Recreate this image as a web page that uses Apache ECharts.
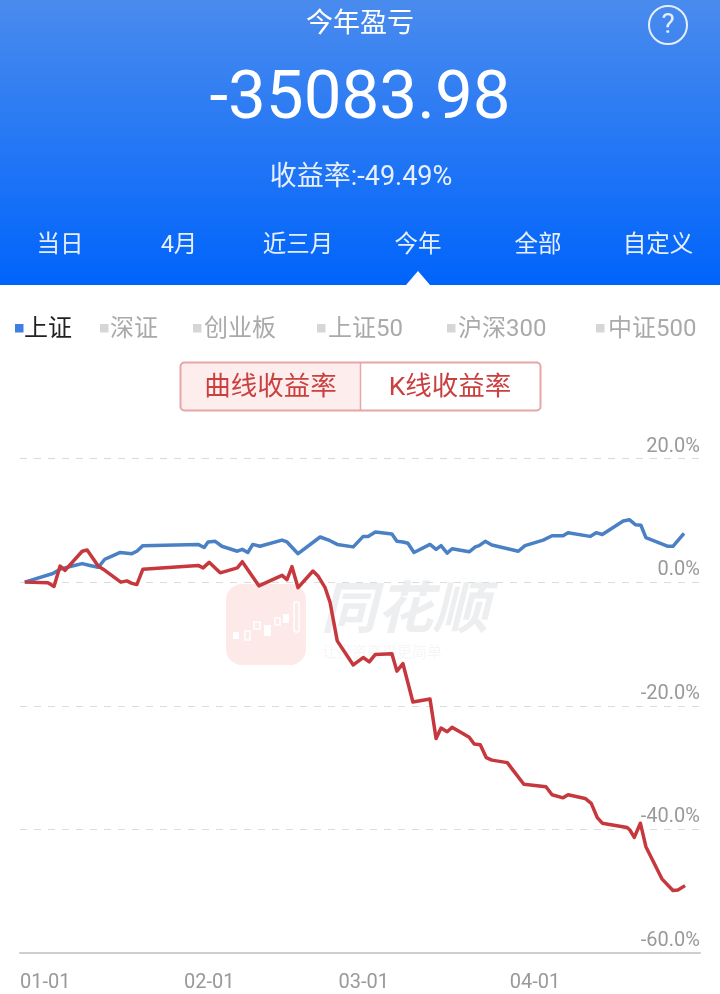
<!DOCTYPE html>
<html><head><meta charset="utf-8">
<style>html,body{margin:0;padding:0;background:#fff}#c{width:720px;height:994px}</style>
<script src="https://cdn.jsdelivr.net/npm/echarts@6/dist/echarts.min.js"></script>
</head><body><div id="c"></div>
<script>
const FONT = 'Roboto, "Noto Sans CJK SC", sans-serif';
const tickLabels = ['01-01', '02-01', '03-01', '04-01'];
const tickDays = [1.3, 31, 59, 90];
const yTicks = [-60, -40, -20, 0, 20];
const tabs = ['当日', '4月', '近三月', '今年', '全部', '自定义'];
const legendNames = ['上证', '深证', '创业板', '上证50', '沪深300', '中证500'];
const indexName = '上证';
const accountName = '收益率';

const indexDays = [-2.4,2.7,4.0,6.2,8.0,9.4,10.9,12.1,13.4,14.9,17.0,17.9,19.0,29.0,30.1,30.8,32.1,33.3,36.1,37.0,38.0,38.9,40.2,44.2,45.1,47.1,51.1,52.9,54.2,57.1,58.9,59.8,61.1,64.1,65.0,66.1,67.0,68.1,71.0,72.1,73.0,74.1,75.0,78.1,79.2,79.9,81.0,82.2,87.0,88.2,91.5,93.1,95.1,96.0,100.0,101.1,102.2,106.0,107.1,108.2,109.2,110.1,114.1,115.0,117.0];
const indexValues = [0,1.4,2.1,2.6,3.0,2.7,2.4,3.7,4.2,4.8,4.6,5.0,5.9,6.1,5.6,6.5,6.6,5.8,5.0,5.3,4.8,6.1,5.8,6.8,6.5,4.6,7.3,6.7,6.1,5.7,7.4,7.4,8.1,7.8,6.6,6.5,6.3,4.8,6.1,5.3,5.9,4.7,5.4,4.9,5.7,5.9,6.6,6.0,5.0,5.9,6.8,7.5,7.5,8.0,7.4,8.0,7.7,9.9,10.1,9.3,9.2,7.2,5.8,5.8,7.9];
const accountDays = [-2.4,1.8,2.9,4.0,4.9,8.0,8.9,10.9,11.8,15.0,16.1,17.0,17.9,19.0,29.0,29.9,31.0,33.0,36.1,37.0,40.0,44.2,45.1,46.0,47.1,49.8,50.7,52.0,52.9,54.2,57.1,58.9,60.0,61.1,64.1,65.0,66.1,67.9,71.0,72.1,73.0,74.1,75.0,76.4,78.1,79.0,80.1,81.2,82.2,85.0,86.1,88.0,92.0,93.1,95.1,96.0,99.1,100.2,101.3,102.2,106.7,107.2,108.0,109.1,110.1,113.0,115.0,115.9,117.2];
const accountValues = [0,-0.1,-0.7,2.6,1.9,5.0,5.2,2.6,2.1,0,0.2,-0.2,-0.4,2.1,2.7,2.3,3.2,1.5,2.3,3.3,-0.6,1.1,0.4,2.5,-0.9,1.8,1.0,-0.9,-3.3,-9.5,-13.4,-12.2,-12.9,-11.7,-11.6,-14.4,-13.2,-19.4,-18.9,-25.3,-23.6,-24.2,-23.5,-24.2,-25.1,-26.2,-26.3,-28.4,-28.8,-29.2,-30.5,-32.7,-33.1,-34.4,-34.9,-34.4,-35.0,-35.8,-38.1,-39.0,-39.7,-40.1,-41.3,-39.0,-42.8,-48.0,-49.9,-49.8,-49.1];

const txt = (x, y, text, size, fill, extra) => ({
  type: 'text', x, y, z: 10,
  style: Object.assign({ text, fontSize: size, fontFamily: FONT, fill, align: 'center', verticalAlign: 'middle' }, extra || {})
});
const tabX = [60, 179, 298, 418, 538, 658];
const legX = [24, 110, 204, 328, 458, 608];
const sqX = [15, 100, 193, 317, 447, 596];

const graphics = [
  { type: 'rect', z: 0, shape: { x: 0, y: 0, width: 720, height: 285 },
    style: { fill: new echarts.graphic.LinearGradient(0, 0, 0, 1, [{ offset: 0, color: '#4a8bee' }, { offset: 1, color: '#0064fb' }]) } },
  { type: 'polygon', z: 1, shape: { points: [[406, 285], [418, 271], [430, 285]] }, style: { fill: '#fff' } },
  txt(360, 25, '今年盈亏', 27, '#fff'),
  { type: 'circle', z: 10, shape: { cx: 668, cy: 25, r: 19 }, style: { fill: 'none', stroke: '#e6eefc', lineWidth: 2 } },
  txt(668, 26, '?', 28, '#e6eefc'),
  { type: 'text', z: 10, x: 360, y: 101, scaleX: 1.02, originX: 0, originY: 0,
    style: { text: '-35083.98', fontSize: 66, fontFamily: FONT, fill: '#fff', align: 'center', verticalAlign: 'middle' } },
  txt(361, 178, '收益率:-49.49%', 27, '#e8f0fe'),
  { type: 'rect', z: 1, shape: { x: 181, y: 363, width: 179, height: 47, r: [4, 0, 0, 4] }, style: { fill: '#fdeeed' } },
  { type: 'rect', z: 2, shape: { x: 180.5, y: 362.5, width: 360, height: 48, r: 4 }, style: { fill: 'none', stroke: '#e7a5a5', lineWidth: 2 } },
  { type: 'line', z: 2, shape: { x1: 360.5, y1: 363, x2: 360.5, y2: 410 }, style: { stroke: '#e7a5a5', lineWidth: 1.5 } },
  txt(270.5, 388, '曲线收益率', 26.5, '#c9403f'),
  txt(450, 388, 'K线收益率', 26.5, '#c9403f'),
  // watermark
  { type: 'rect', z: 0, shape: { x: 226, y: 584, width: 80, height: 81, r: 16 }, style: { fill: '#fce9e8' } },
  { type: 'rect', z: 0, shape: { x: 233, y: 632, width: 6, height: 7 }, style: { fill: '#fff' } },
  { type: 'rect', z: 0, shape: { x: 245, y: 631, width: 5, height: 9 }, style: { fill: 'none', stroke: '#fff', lineWidth: 1.5 } },
  { type: 'rect', z: 0, shape: { x: 254, y: 622, width: 6, height: 7 }, style: { fill: 'none', stroke: '#fff', lineWidth: 1.5 } },
  { type: 'rect', z: 0, shape: { x: 264, y: 625, width: 7, height: 11 }, style: { fill: '#fff' } },
  { type: 'rect', z: 0, shape: { x: 275, y: 618, width: 5, height: 7 }, style: { fill: 'none', stroke: '#fff', lineWidth: 1.5 } },
  { type: 'rect', z: 0, shape: { x: 283, y: 614, width: 6, height: 9 }, style: { fill: '#fff' } },
  { type: 'rect', z: 0, shape: { x: 294, y: 602, width: 5, height: 30, r: 2 }, style: { fill: 'none', stroke: '#fff', lineWidth: 1.5 } },
  { type: 'text', z: 0, x: 321, y: 614, style: { text: '同花顺', fontSize: 56, fontStyle: 'italic', fontWeight: 'bold', fontFamily: FONT, fill: '#eceef0', align: 'left', verticalAlign: 'middle' } },
  { type: 'text', z: 0, x: 322, y: 653, style: { text: '让投资变得更简单', fontSize: 15, fontFamily: FONT, fill: '#f6f6f7', align: 'left', verticalAlign: 'middle' } }
];
tabs.forEach((t, i) => graphics.push(txt(tabX[i], 246, t, 23.5, '#e8f0fe')));
legendNames.forEach((t, i) => {
  graphics.push({ type: 'rect', z: 10, shape: { x: sqX[i], y: 324, width: 8.5, height: 8.5 }, style: { fill: i === 0 ? '#3f7fe3' : '#d6d6d6' } });
  graphics.push(txt(legX[i], 330, t, 24, i === 0 ? '#222' : '#aaa', { align: 'left' }));
});

const zip = (xs, ys) => xs.map((x, i) => [x, ys[i]]);
const chart = echarts.init(document.getElementById('c'), null, { renderer: 'canvas' });
chart.setOption({
  animation: false,
  backgroundColor: '#fff',
  graphic: graphics,
  grid: { left: 20, right: 20, top: 458.5, bottom: 41 },
  xAxis: {
    type: 'value', min: -3.26, max: 119.9,
    splitLine: { show: false },
    axisLine: { show: true, onZero: false, lineStyle: { color: '#cfcfd2', width: 2 } },
    axisTick: { show: false },
    axisLabel: {
      show: true, customValues: tickDays, margin: 20, fontSize: 20, color: '#999', fontFamily: FONT,
      formatter: v => tickLabels[tickDays.indexOf(v)]
    }
  },
  yAxis: {
    type: 'value', position: 'right', min: -60, max: 20, interval: 20,
    axisLine: { show: false }, axisTick: { show: false },
    axisLabel: {
      inside: true, margin: 0, fontSize: 20, color: '#999', fontFamily: FONT, verticalAlign: 'bottom', lineHeight: 24,
      formatter: v => yTicks.includes(v) ? v.toFixed(1) + '%' : ''
    },
    splitLine: { show: true, lineStyle: { color: '#dcdcdc', type: [7, 7], width: 1.2 } }
  },
  series: [
    { name: indexName, type: 'line', z: 3, data: zip(indexDays, indexValues), showSymbol: false, symbol: 'none',
      lineStyle: { color: '#4a80c4', width: 3.5, join: 'round' } },
    { name: accountName, type: 'line', z: 4, data: zip(accountDays, accountValues), showSymbol: false, symbol: 'none',
      lineStyle: { color: '#c6383d', width: 3.5, join: 'round' } }
  ]
});
</script></body></html>
